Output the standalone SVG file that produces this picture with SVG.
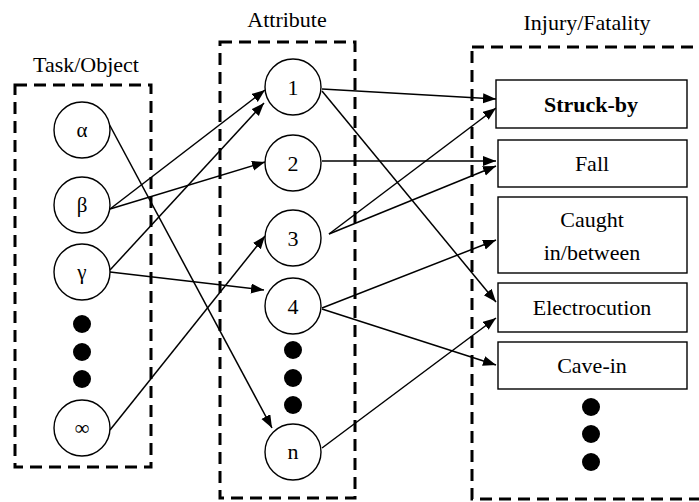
<svg xmlns="http://www.w3.org/2000/svg" width="699" height="502" viewBox="0 0 699 502">
<style>
.frame{fill:none;stroke:#000;stroke-width:3;stroke-dasharray:12 7}
.c{fill:#fff;stroke:#000;stroke-width:1.4}
.b{fill:#fff;stroke:#000;stroke-width:1.4}
.dot{fill:#000}
.e{stroke:#000;stroke-width:1.5;fill:none;marker-end:url(#ah)}
</style>
<defs>
<marker id="ah" markerUnits="userSpaceOnUse" markerWidth="14" markerHeight="12" refX="13" refY="5" orient="auto">
<path d="M0,0 L13,5 L0,10 z" fill="#000"/>
</marker>
</defs>
<rect width="699" height="502" fill="#fff"/>

<g id="frames">
<rect class="frame" x="15" y="85" width="136" height="382"/>
<rect class="frame" x="220" y="42" width="135" height="456"/>
<rect class="frame" x="472" y="47" width="240" height="452"/>
</g>

<g id="connectors">
<line class="e" x1="108" y1="122" x2="272" y2="428"/>
<line class="e" x1="110" y1="209" x2="265" y2="90"/>
<line class="e" x1="110" y1="209" x2="265" y2="162"/>
<line class="e" x1="110" y1="270" x2="264" y2="103"/>
<line class="e" x1="110" y1="272" x2="264" y2="290"/>
<line class="e" x1="110" y1="430" x2="265" y2="236"/>
<line class="e" x1="322" y1="89" x2="496" y2="99"/>
<line class="e" x1="322" y1="91" x2="496" y2="302"/>
<line class="e" x1="322" y1="161" x2="496" y2="161"/>
<line class="e" x1="329" y1="234" x2="496" y2="108"/>
<line class="e" x1="329" y1="234" x2="496" y2="166"/>
<line class="e" x1="322" y1="308" x2="496" y2="240"/>
<line class="e" x1="322" y1="309" x2="496" y2="365"/>
<line class="e" x1="322" y1="448" x2="496" y2="318"/>
</g>

<g style="font-family:'Liberation Serif',serif;text-anchor:middle;fill:#000;font-size:22px">
<g id="titles">
<text x="86" y="72" style="font-family:'Liberation Serif',serif;font-size:22px">Task/Object</text>
<text x="287" y="27" style="font-family:'Liberation Serif',serif;font-size:22px">Attribute</text>
<text x="587" y="30" style="font-family:'Liberation Serif',serif;font-size:22px">Injury/Fatality</text>
</g>

<g id="task-alpha"><circle class="c" cx="82" cy="130" r="28"/><text style="font-size:21px" x="82" y="137">α</text></g>
<g id="task-beta"><circle class="c" cx="82" cy="205" r="28"/><text style="font-size:21px" x="82" y="212">β</text></g>
<g id="task-gamma"><circle class="c" cx="82" cy="272" r="28"/><text style="font-size:21px" x="82" y="279">γ</text></g>
<g id="task-dots"><circle class="dot" cx="82" cy="324" r="9"/><circle class="dot" cx="82" cy="352" r="9"/><circle class="dot" cx="82" cy="379" r="9"/></g>
<g id="task-inf"><circle class="c" cx="82" cy="428" r="28"/><text style="font-size:21px" x="82" y="435">∞</text></g>

<g id="attr-1"><circle class="c" cx="293" cy="87" r="28"/><text x="293" y="95">1</text></g>
<g id="attr-2"><circle class="c" cx="293" cy="163" r="28"/><text x="293" y="171">2</text></g>
<g id="attr-3"><circle class="c" cx="293" cy="238" r="28"/><text x="293" y="246">3</text></g>
<g id="attr-4"><circle class="c" cx="293" cy="306" r="28"/><text x="293" y="314">4</text></g>
<g id="attr-dots"><circle class="dot" cx="293" cy="350" r="9"/><circle class="dot" cx="293" cy="378" r="9"/><circle class="dot" cx="293" cy="405" r="9"/></g>
<g id="attr-n"><circle class="c" cx="293" cy="452" r="28"/><text x="293" y="459">n</text></g>

<g id="inj-struck"><rect class="b" x="496" y="80" width="191" height="48"/><text x="591" y="112" style="font-weight:bold">Struck-by</text></g>
<g id="inj-fall"><rect class="b" x="498" y="140" width="189" height="47"/><text x="592" y="171">Fall</text></g>
<g id="inj-caught"><rect class="b" x="498" y="197" width="189" height="76"/><text x="592" y="227">Caught</text><text x="592" y="260">in/between</text></g>
<g id="inj-electro"><rect class="b" x="498" y="283" width="189" height="49"/><text x="592" y="315">Electrocution</text></g>
<g id="inj-cave"><rect class="b" x="498" y="342" width="189" height="47"/><text x="592" y="373">Cave-in</text></g>
<g id="inj-dots"><circle class="dot" cx="591" cy="407" r="9"/><circle class="dot" cx="591" cy="434" r="9"/><circle class="dot" cx="591" cy="462" r="9"/></g>
</g>
</svg>
